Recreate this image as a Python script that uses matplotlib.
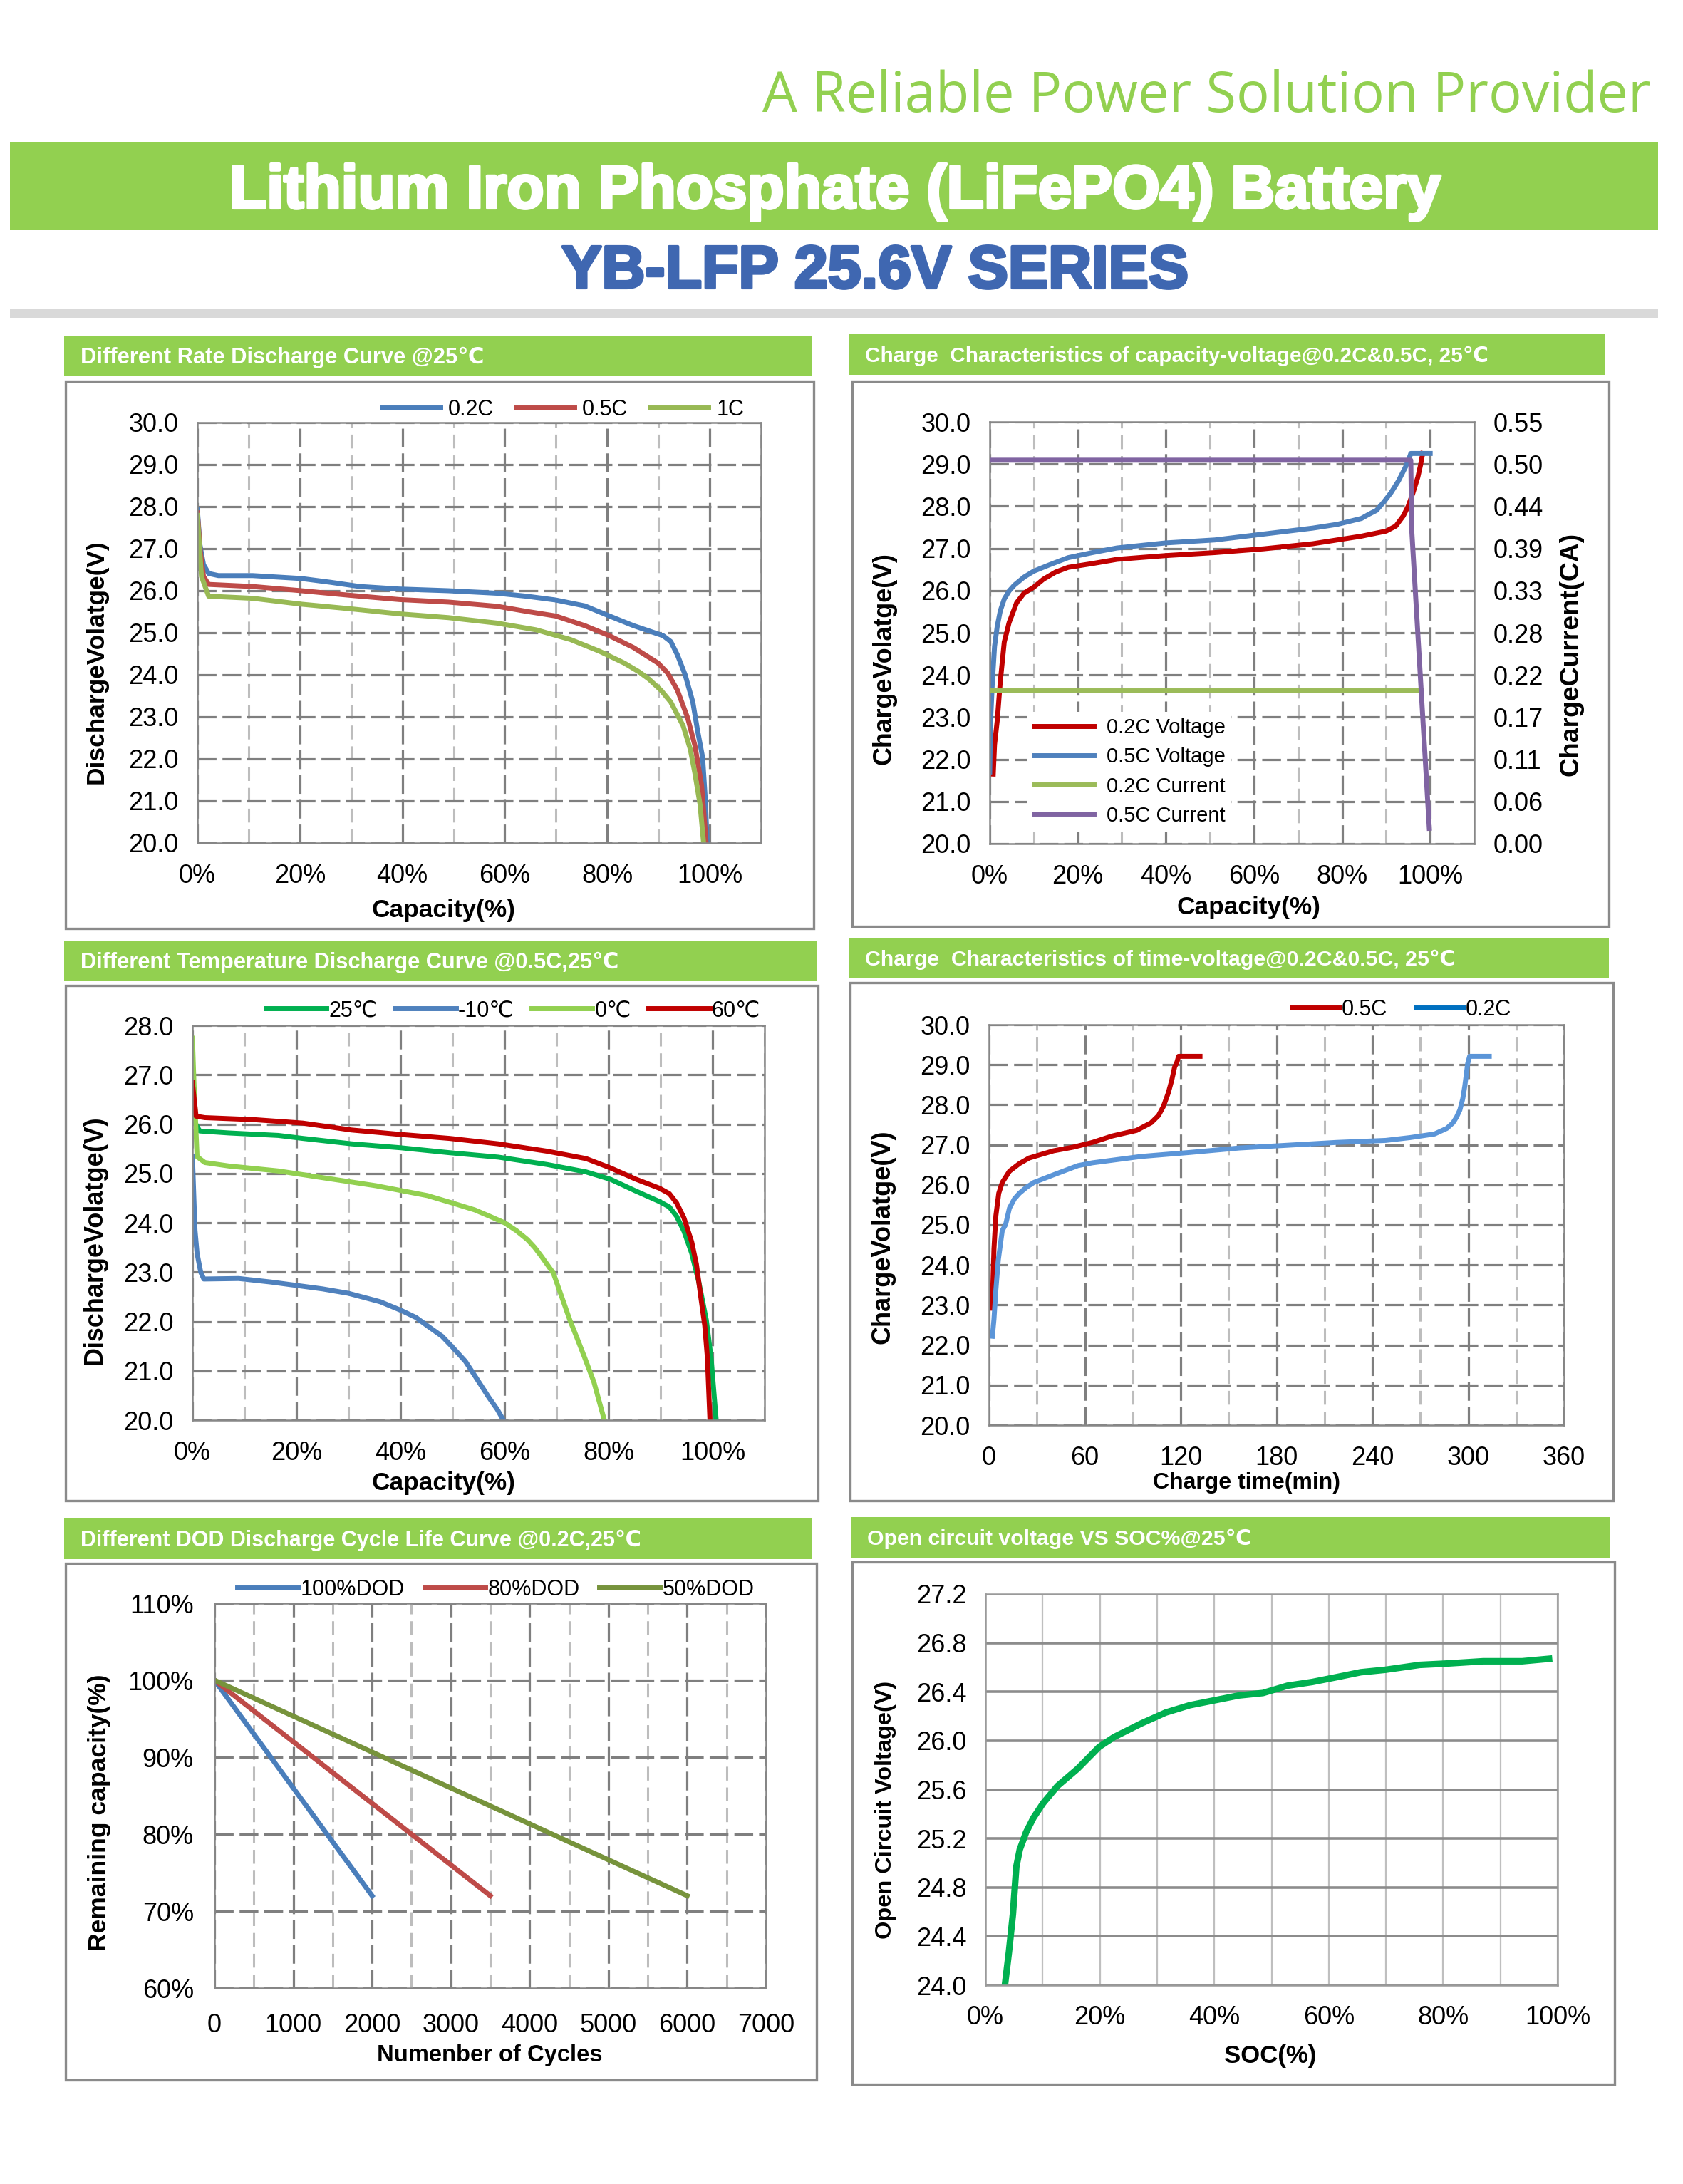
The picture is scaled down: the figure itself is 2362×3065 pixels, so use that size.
import matplotlib
matplotlib.use('Agg')
import matplotlib.pyplot as plt
from matplotlib.patches import Rectangle
from matplotlib.lines import Line2D
from matplotlib import font_manager
import matplotlib.patheffects as pe

W, H = 2362, 3065
plt.rcParams['font.family'] = ['Liberation Sans', 'DejaVu Sans']
plt.rcParams['lines.scale_dashes'] = False

_names = {f.name for f in font_manager.fontManager.ttflist}
NARROW = 'Liberation Sans Narrow' if 'Liberation Sans Narrow' in _names else 'Liberation Sans'

# ---------------- data ----------------
# panel 1: different rate discharge
rate_cap_02 = [0, 0.5, 1.2, 2.2, 4.1, 10.8, 20.3, 26, 31.7, 39.4, 49, 58.5, 64.2, 69.9, 75.6, 80.4, 85.1,
               90.9, 92.4, 93.7, 95.2, 96.7, 97.6, 98.6, 99.1, 99.5]
rate_v_02 = [27.93, 27.09, 26.62, 26.41, 26.36, 26.36, 26.29, 26.2, 26.1, 26.04, 26.0, 25.94, 25.87, 25.78, 25.64,
             25.4, 25.17, 24.93, 24.79, 24.47, 24.0, 23.35, 22.69, 22.04, 21.1, 20.0]
rate_cap_05 = [0, 0.6, 1.2, 2.2, 10.8, 20.3, 29.9, 39.4, 49, 58.5, 64.2, 69.9, 75.6, 80.4, 85.1, 89.9,
               91.8, 93.7, 95.7, 97.1, 98.4, 99.3]
rate_v_05 = [27.85, 26.9, 26.34, 26.15, 26.1, 26.0, 25.89, 25.79, 25.73, 25.63, 25.51, 25.40, 25.17, 24.93,
             24.65, 24.28, 24.04, 23.63, 22.97, 22.32, 21.38, 20.0]
rate_cap_1 = [0, 0.8, 2.2, 10.8, 20.3, 29.9, 39.4, 49, 58.5, 66.1, 72.8, 78.5, 83.3, 86.2, 88.1, 90.5,
              92.4, 94.8, 96.2, 97.1, 98.1, 98.8]
rate_v_1 = [27.79, 26.34, 25.87, 25.82, 25.68, 25.57, 25.45, 25.36, 25.23, 25.07, 24.84, 24.56, 24.28, 24.07,
            23.9, 23.63, 23.35, 22.79, 22.23, 21.66, 20.92, 20.0]

# panel 2: charge capacity-voltage
chg_cap_02 = [0.8, 1.1, 1.7, 2.4, 3.3, 4.4, 6.1, 7.8, 10, 12.2, 15, 17.8, 23.3, 28.9, 40, 51.1, 62.2, 73.3,
              84.4, 90, 92.2, 93.9, 95, 96.1, 97.2, 97.8, 98.3]
chg_v_02 = [21.65, 22.35, 22.91, 23.84, 24.78, 25.24, 25.71, 25.94, 26.08, 26.27, 26.44, 26.55, 26.64, 26.74,
            26.83, 26.9, 26.99, 27.11, 27.29, 27.41, 27.53, 27.77, 28.0, 28.32, 28.69, 28.97, 29.25]
chg_cap_05 = [0, 0.2, 0.6, 1.1, 1.7, 2.4, 3.3, 4.4, 5.6, 7.8, 10, 13.3, 17.8, 23.3, 28.9, 40, 51.1, 62.2,
              73.3, 78.9, 84.4, 86.1, 87.8, 89.4, 91.1, 92.8, 94.4, 95.3, 95.6, 100]
chg_v_05 = [21.7, 22.91, 23.84, 24.68, 25.15, 25.52, 25.8, 25.99, 26.13, 26.32, 26.46, 26.6, 26.78, 26.9,
            27.01, 27.13, 27.2, 27.34, 27.48, 27.57, 27.71, 27.81, 27.9, 28.09, 28.32, 28.6, 28.93, 29.16,
            29.25, 29.25]
cur_cap_02 = [0, 97.8]
cur_02 = [0.2, 0.2]
cur_cap_05 = [0, 95.6, 95.8, 99.8]
cur_05 = [0.5, 0.5, 0.41, 0.02]
cur_ticks = [0, 0.055, 0.11, 0.165, 0.22, 0.275, 0.33, 0.385, 0.44, 0.495, 0.55]
cur_labels = ['0.00', '0.06', '0.11', '0.17', '0.22', '0.28', '0.33', '0.39', '0.44', '0.50', '0.55']

# panel 3: temperature discharge
t_cap_25 = [0, 1.4, 7, 16.5, 21.2, 30.6, 40, 49.4, 58.8, 68.2, 75.7, 80.4, 85.1, 89.8, 91.7, 93.1, 94.5,
            96, 97.4, 98.8, 99.7, 100.7]
t_v_25 = [26.12, 25.86, 25.82, 25.77, 25.71, 25.6, 25.52, 25.42, 25.33, 25.18, 25.03, 24.88, 24.65, 24.43,
          24.32, 24.13, 23.83, 23.38, 22.78, 22.03, 21.28, 20.0]
t_cap_m10 = [0, 0.5, 0.9, 1.6, 2.2, 8.9, 15, 20, 25, 30, 36.1, 40, 43, 45.2, 48, 50, 52.5, 54.3, 57,
             58.6, 59.8]
t_v_m10 = [25.35, 23.85, 23.38, 23.0, 22.86, 22.87, 22.8, 22.73, 22.66, 22.57, 22.40, 22.23, 22.08, 21.91,
           21.70, 21.48, 21.19, 20.9, 20.46, 20.22, 20.0]
t_cap_0 = [0, 0.3, 0.9, 2.4, 7, 16.5, 25.9, 35.3, 45.2, 50, 54.3, 57.2, 60, 62.3, 64.4, 65.8, 67.1, 69.4,
           71, 72.6, 74, 75.3, 77.2, 79.2]
t_v_0 = [27.74, 26.84, 25.34, 25.22, 25.15, 25.05, 24.9, 24.75, 24.55, 24.4, 24.26, 24.13, 24.0, 23.84,
         23.66, 23.5, 23.32, 22.98, 22.5, 22.02, 21.65, 21.3, 20.77, 20.0]
t_cap_60 = [0, 0.7, 2.4, 11.8, 21.2, 30.6, 40, 49.4, 58.8, 68.2, 75.7, 80.4, 85.1, 89.8, 91.7, 93.1, 94.5,
            96, 96.9, 97.8, 98.5, 99, 99.5]
t_v_60 = [26.84, 26.16, 26.13, 26.09, 26.02, 25.88, 25.79, 25.71, 25.6, 25.45, 25.3, 25.11, 24.89, 24.7,
          24.59, 24.4, 24.1, 23.61, 23.16, 22.45, 21.92, 21.28, 20.0]

# panel 4: charge time-voltage
time_05 = [2.1, 2.4, 3.1, 4.3, 6.1, 8.3, 12.8, 19, 25.1, 40.4, 52.6, 64.8, 77.1, 92.4, 101.5, 106.1, 109.2,
           112.2, 114.4, 116.2, 117.7, 118.7, 132.1]
tv_05 = [22.92, 23.47, 24.4, 25.23, 25.79, 26.06, 26.34, 26.53, 26.67, 26.85, 26.94, 27.06, 27.22, 27.36,
         27.55, 27.73, 27.96, 28.29, 28.61, 28.94, 29.07, 29.21, 29.21]
time_02 = [2.1, 3.1, 4.3, 5.8, 8.3, 10.4, 12.8, 15.9, 19, 23.5, 28.1, 40.4, 55.7, 64.8, 95.4, 126, 156.6,
           187.2, 217.8, 248.4, 263.6, 278.9, 286.6, 290.5, 292.7, 294.8, 296.6, 297.9, 298.8, 299.7,
           300.9, 313.2]
tv_02 = [22.22, 22.64, 23.38, 24.12, 24.86, 25.01, 25.42, 25.65, 25.79, 25.94, 26.06, 26.25, 26.48, 26.55,
         26.71, 26.81, 26.92, 26.99, 27.06, 27.11, 27.18, 27.27, 27.41, 27.55, 27.69, 27.87, 28.15, 28.47,
         28.75, 29.03, 29.21, 29.21]

# panel 5: cycle life
cycles_100 = [0, 2000]
cap_100 = [100, 72]
cycles_80 = [0, 3500]
cap_80 = [100, 72]
cycles_50 = [0, 6000]
cap_50 = [100, 72]

# panel 6: OCV vs SOC
soc = [3.4, 4.1, 4.8, 5.4, 6.0, 7.1, 8.4, 10.1, 12.6, 16.1, 19.9, 22.5, 27.2, 31.5, 35.7, 40, 44.3, 48.5,
       52.8, 57.1, 61.4, 65.6, 69.9, 75.9, 80.2, 87, 93.8, 98.5]
ocv = [24.0, 24.27, 24.58, 24.97, 25.11, 25.25, 25.37, 25.49, 25.63, 25.77, 25.95, 26.03, 26.14, 26.23,
       26.29, 26.33, 26.37, 26.39, 26.45, 26.48, 26.52, 26.56, 26.58, 26.62, 26.63, 26.65, 26.65, 26.67]

pct_ticks = [0, 20, 40, 60, 80, 100]
pct_labels = ['0%', '20%', '40%', '60%', '80%', '100%']
v_ticks = [20, 21, 22, 23, 24, 25, 26, 27, 28, 29, 30]
time_ticks = [0, 60, 120, 180, 240, 300, 360]
cyc_ticks = [0, 1000, 2000, 3000, 4000, 5000, 6000, 7000]
rem_ticks = [60, 70, 80, 90, 100, 110]
rem_labels = ['60%', '70%', '80%', '90%', '100%', '110%']
ocv_ticks = [24.0, 24.4, 24.8, 25.2, 25.6, 26.0, 26.4, 26.8, 27.2]

GREEN = '#92D050'
fig = plt.figure(figsize=(W / 100, H / 100), dpi=100)
fig.patch.set_facecolor('white')
renderer = fig.canvas.get_renderer()


def rect(x0, y0, x1, y1, **kw):
    fig.patches.append(Rectangle((x0 / W, 1 - y1 / H), (x1 - x0) / W, (y1 - y0) / H,
                                 transform=fig.transFigure, figure=fig, **kw))


def fit(t, width_px):
    bb = t.get_window_extent(renderer)
    t.set_fontsize(t.get_fontsize() * width_px / max(bb.width, bb.height))
    return t


def ftext(x, y, s, width=None, **kw):
    t = fig.text(x / W, 1 - y / H, s, **kw)
    if width:
        fit(t, width)
    return t


def add_ax(x0, y0, x1, y1):
    return fig.add_axes([x0 / W, 1 - y1 / H, (x1 - x0) / W, (y1 - y0) / H])


def panel(header, box, title, title_w):
    hx0, hy0, hx1, hy1 = header
    rect(hx0, hy0, hx1, hy1, facecolor=GREEN, edgecolor='none')
    ftext(hx0 + 23, (hy0 + hy1) / 2 + 2, title, width=title_w, color='white',
          fontsize=22, fontweight='bold', family=[NARROW, 'DejaVu Sans'],
          ha='left', va='center')
    rect(*box, facecolor='none', edgecolor='#8A8A8A', linewidth=2.4)


def style(ax, dashed=True, minor_x=None):
    for s in ax.spines.values():
        s.set_color('#878787')
        s.set_linewidth(1.8)
    ax.tick_params(which='both', length=0, labelsize=26)
    ax.set_axisbelow(True)
    if dashed:
        ax.grid(True, which='major', color='#7F7F7F', linewidth=2.3, linestyle=(0, (19, 6)))
        if minor_x is not None:
            ax.set_xticks(minor_x, minor=True)
            ax.grid(True, which='minor', axis='x', color='#BDBDBD', linewidth=2.2,
                    linestyle=(0, (14, 7)))


# ---------------- header ----------------
ftext(2317, 157, 'A Reliable Power Solution Provider', width=1246, color=GREEN,
      fontsize=50, family=['Open Sans', 'DejaVu Sans'], ha='right', va='baseline')
rect(14, 199, 2327, 323, facecolor=GREEN, edgecolor='none')
ftext(1172, 292, 'Lithium Iron Phosphate (LiFePO4) Battery', width=1700, color='white',
      fontsize=50, fontweight='bold', ha='center', va='baseline',
      path_effects=[pe.withStroke(linewidth=3, foreground='white')])
ftext(1228, 404, 'YB-LFP 25.6V SERIES', width=880, color='#3F67B1',
      fontsize=50, fontweight='bold', ha='center', va='baseline',
      path_effects=[pe.withStroke(linewidth=3, foreground='#3F67B1')])
rect(14, 434, 2327, 446, facecolor='#D9D9D9', edgecolor='none')

lw = 5.0
jr = dict(solid_joinstyle='round')
bold = dict(fontweight='bold', color='black', ha='center', va='center', fontsize=21)

# ---------------- panel 1 ----------------
panel((90, 471, 1140, 528), (92, 535, 1142, 1303), 'Different Rate Discharge Curve @25\u2103', 565)
ax = add_ax(277, 593, 1068, 1183)
ax.plot(rate_cap_02, rate_v_02, color='#4A7EBB', lw=lw, label='0.2C', **jr)
ax.plot(rate_cap_05, rate_v_05, color='#BE4B48', lw=lw, label='0.5C', **jr)
ax.plot(rate_cap_1, rate_v_1, color='#98B954', lw=lw, label='1C', **jr)
ax.set_xlim(0, 110)
ax.set_ylim(20, 30)
ax.set_xticks(pct_ticks, pct_labels)
ax.set_yticks(v_ticks, [f'{v:.1f}' for v in v_ticks])
style(ax, minor_x=[10, 30, 50, 70, 90, 110])
ax.tick_params(axis='y', pad=19)
ax.tick_params(axis='x', pad=21)
ax.legend(loc='center', bbox_to_anchor=(790 / W, 1 - 575 / H), bbox_transform=fig.transFigure,
          ncol=3, frameon=False, fontsize=22, handlelength=2.7, handletextpad=0.35,
          columnspacing=1.0)
ftext(135, 929, 'DischargeVolatge(V)', width=342, rotation=90, **bold)
ftext(622, 1277, 'Capacity(%)', width=202, **bold)

# ---------------- panel 2 ----------------
panel((1191, 469, 2252, 526), (1196, 535, 2258, 1300),
      'Charge  Characteristics of capacity-voltage@0.2C&0.5C, 25\u2103', 873)
ax = add_ax(1389, 592, 2069, 1184)
ax2 = ax.twinx()
h1, = ax.plot(chg_cap_02, chg_v_02, color='#C00000', lw=lw, label='0.2C Voltage', **jr)
h2, = ax.plot(chg_cap_05, chg_v_05, color='#4F81BD', lw=lw, label='0.5C Voltage', **jr)
h3, = ax2.plot(cur_cap_02, cur_02, color='#9BBB59', lw=lw, label='0.2C Current')
h4, = ax2.plot(cur_cap_05, cur_05, color='#8064A2', lw=lw, label='0.5C Current', **jr)
ax.set_xlim(0, 110)
ax.set_ylim(20, 30)
ax2.set_ylim(0, 0.55)
ax.set_xticks(pct_ticks, pct_labels)
ax.set_yticks(v_ticks, [f'{v:.1f}' for v in v_ticks])
ax2.set_yticks(cur_ticks, cur_labels)
style(ax, minor_x=[10, 30, 50, 70, 90, 110])
ax2.tick_params(length=0, labelsize=26, pad=19)
for s in ax2.spines.values():
    s.set_visible(False)
ax.tick_params(axis='y', pad=19)
ax.tick_params(axis='x', pad=21)
leg = ax2.legend(handles=[h1, h2, h3, h4], loc='center', bbox_to_anchor=(1585 / W, 1 - 1083 / H),
                 bbox_transform=fig.transFigure, frameon=True, fontsize=21, handlelength=2.9,
                 handletextpad=0.6, labelspacing=0.45, borderpad=0.3)
leg.get_frame().set_facecolor('white')
leg.get_frame().set_edgecolor('none')
leg.get_frame().set_alpha(1)
ftext(1241, 924, 'ChargeVolatge(V)', width=298, rotation=90, **bold)
ftext(2205, 918, 'ChargeCurrent(CA)', width=342, rotation=90, **bold)
ftext(1752, 1274, 'Capacity(%)', width=202, **bold)

# ---------------- panel 3 ----------------
panel((90, 1321, 1146, 1377), (92, 1383, 1148, 2106),
      'Different Temperature Discharge Curve @0.5C,25\u2103', 755)
ax = add_ax(270, 1439, 1073, 1993)
ax.plot(t_cap_25, t_v_25, color='#00B050', lw=lw, label='25\u2103', **jr)
ax.plot(t_cap_m10, t_v_m10, color='#4F81BD', lw=lw, label='-10\u2103', **jr)
ax.plot(t_cap_0, t_v_0, color='#92D050', lw=lw, label='0\u2103', **jr)
ax.plot(t_cap_60, t_v_60, color='#C00000', lw=lw, label='60\u2103', **jr)
ax.set_xlim(0, 110)
ax.set_ylim(20, 28)
ax.set_xticks(pct_ticks, pct_labels)
ax.set_yticks(v_ticks[:9], [f'{v:.1f}' for v in v_ticks[:9]])
style(ax, minor_x=[10, 30, 50, 70, 90, 110])
ax.tick_params(axis='y', pad=19)
ax.tick_params(axis='x', pad=21)
ax.legend(loc='center', bbox_to_anchor=(720 / W, 1 - 1418 / H), bbox_transform=fig.transFigure,
          ncol=4, frameon=False, fontsize=22, handlelength=2.8, handletextpad=0.1,
          columnspacing=0.8)
ftext(133, 1740, 'DischargeVolatge(V)', width=349, rotation=90, **bold)
ftext(622, 2081, 'Capacity(%)', width=202, **bold)

# ---------------- panel 4 ----------------
panel((1191, 1316, 2258, 1373), (1193, 1379, 2264, 2106),
      'Charge  Characteristics of time-voltage@0.2C&0.5C, 25\u2103', 830)
ax = add_ax(1388, 1438, 2195, 2000)
ax.plot(time_05, tv_05, color='#C00000', lw=lw, **jr)
ax.plot(time_02, tv_02, color='#5B95D8', lw=lw, **jr)
ax.set_xlim(0, 360)
ax.set_ylim(20, 30)
ax.set_xticks(time_ticks, [str(t) for t in time_ticks])
ax.set_yticks(v_ticks, [f'{v:.1f}' for v in v_ticks])
style(ax, minor_x=[30, 90, 150, 210, 270, 330])
ax.tick_params(axis='y', pad=19)
ax.tick_params(axis='x', pad=21)
ax.legend(handles=[Line2D([], [], color='#C00000', lw=lw), Line2D([], [], color='#0070C0', lw=lw)],
          labels=['0.5C', '0.2C'], loc='center', bbox_to_anchor=(1967 / W, 1 - 1417 / H),
          bbox_transform=fig.transFigure, ncol=2, frameon=False, fontsize=22,
          handlelength=2.2, handletextpad=0.1, columnspacing=1.3)
ftext(1239, 1736, 'ChargeVolatge(V)', width=300, rotation=90, **bold)
ftext(1749, 2081, 'Charge time(min)', width=263, **bold)

# ---------------- panel 5 ----------------
panel((90, 2131, 1140, 2188), (92, 2194, 1146, 2919),
      'Different DOD Discharge Cycle Life Curve @0.2C,25\u2103', 787)
ax = add_ax(301, 2250, 1075, 2790)
ax.plot(cycles_100, cap_100, color='#4A7EBB', lw=lw, label='100%DOD')
ax.plot(cycles_80, cap_80, color='#BE4B48', lw=lw, label='80%DOD')
ax.plot(cycles_50, cap_50, color='#77933C', lw=lw, label='50%DOD')
ax.set_xlim(0, 7000)
ax.set_ylim(60, 110)
ax.set_xticks(cyc_ticks, [str(c) for c in cyc_ticks])
ax.set_yticks(rem_ticks, rem_labels)
style(ax, minor_x=[500, 1500, 2500, 3500, 4500, 5500, 6500])
ax.tick_params(axis='y', pad=21)
ax.tick_params(axis='x', pad=25)
ax.legend(loc='center', bbox_to_anchor=(696 / W, 1 - 2231 / H), bbox_transform=fig.transFigure,
          ncol=3, frameon=False, fontsize=22, handlelength=2.8, handletextpad=0.1,
          columnspacing=0.9)
ftext(140, 2544, 'Remaining capacity(%)', width=388, rotation=90, **bold)
ftext(687, 2885, 'Numenber of Cycles', width=316, **bold)

# ---------------- panel 6 ----------------
panel((1194, 2129, 2260, 2186), (1196, 2192, 2266, 2925),
      'Open circuit voltage VS SOC%@25\u2103', 540)
ax = add_ax(1383, 2237, 2186, 2786)
ax.plot(soc, ocv, color='#00B050', lw=6.6, solid_joinstyle='round')
ax.set_xlim(0, 100)
ax.set_ylim(24.0, 27.2)
ax.set_xticks(pct_ticks, pct_labels)
ax.set_xticks([10, 30, 50, 70, 90], minor=True)
ax.set_yticks(ocv_ticks, [f'{v:.1f}' for v in ocv_ticks])
style(ax, dashed=False)
ax.grid(True, which='major', axis='y', color='#8C8C8C', linewidth=2.6)
ax.grid(True, which='both', axis='x', color='#BFBFBF', linewidth=1.6)
for s in ax.spines.values():
    s.set_color('#9A9A9A')
ax.tick_params(axis='y', pad=19)
ax.tick_params(axis='x', pad=20)
ftext(1243, 2540, 'Open Circuit Voltage(V)', width=362, rotation=90, **bold)
ftext(1783, 2886, 'SOC(%)', family=[NARROW, 'DejaVu Sans'],
      **{**bold, 'fontsize': 25})

fig.savefig('out.png', dpi=100)
